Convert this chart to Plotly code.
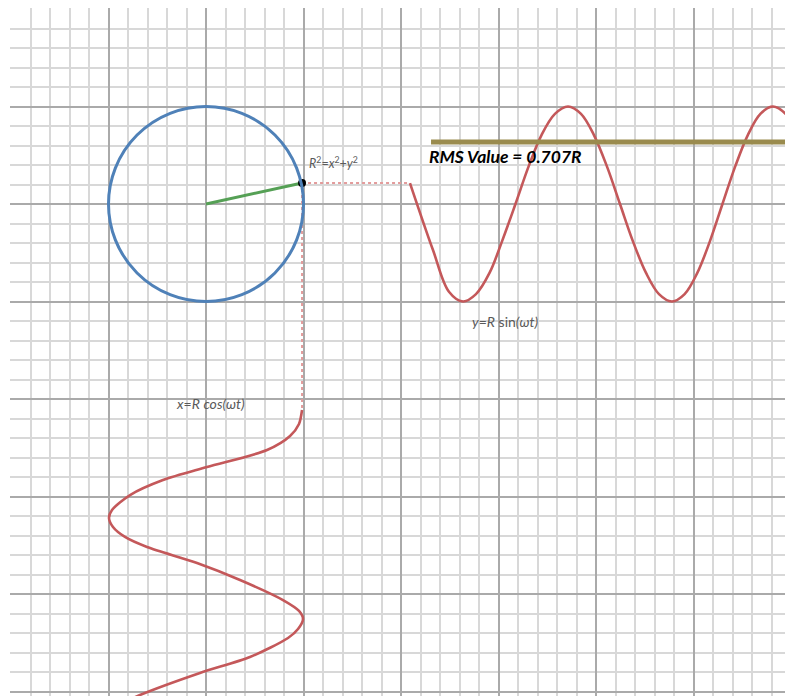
import plotly.graph_objects as go

# ---- data (grid units, R = 1) ----
circle_center = (0.0, 0.0)
circle_radius = 1.0
phasor_x = [0.0, 0.985]
phasor_y = [0.0, 0.215]

sine_x = [2.092, 2.328, 2.492, 2.636, 2.769, 2.908, 3.036, 3.174, 3.308, 3.441, 3.579,
          3.713, 3.846, 3.979, 4.113, 4.246, 4.379, 4.513, 4.646, 4.779, 4.909, 5.039,
          5.168, 5.297, 5.427, 5.557, 5.686, 5.815, 5.944, 6.072]
sine_y = [0.215, -0.472, -0.90, -1.0, -0.924, -0.707, -0.383, 0.0, 0.383, 0.707, 0.924,
          1.0, 0.924, 0.707, 0.383, 0.0, -0.383, -0.707, -0.924, -1.0, -0.924, -0.707,
          -0.383, 0.0, 0.383, 0.707, 0.924, 1.0, 0.924, 0.707]

cos_x = [0.985, 0.954, 0.862, 0.626, 0.010, -0.441, -0.779, -0.964, -0.995, -0.954,
         -0.831, -0.605, -0.092, 0.349, 0.790, 0.954, 0.995, 0.944, 0.841, 0.451,
         -0.062, -0.677, -0.831]
cos_y = [-2.113, -2.256, -2.379, -2.523, -2.697, -2.831, -2.985, -3.138, -3.221, -3.313,
         -3.415, -3.518, -3.682, -3.856, -4.062, -4.174, -4.256, -4.359, -4.451, -4.646,
         -4.810, -5.036, -5.108]

proj_h_x = [0.985, 2.092]
proj_h_y = [0.215, 0.215]
proj_v_x = [0.985, 0.985]
proj_v_y = [0.215, -2.113]

rms_x = [2.308, 6.1]
rms_y = [0.636, 0.636]

RED = "#c4585a"
fig = go.Figure()

fig.add_trace(go.Scatter(x=proj_h_x, y=proj_h_y, mode="lines",
                         line=dict(color="#e39c9c", width=2, dash="dot"), hoverinfo="skip"))
fig.add_trace(go.Scatter(x=proj_v_x, y=proj_v_y, mode="lines",
                         line=dict(color="#e39c9c", width=2, dash="dot"), hoverinfo="skip"))
fig.add_trace(go.Scatter(x=sine_x, y=sine_y, mode="lines",
                         line=dict(color=RED, width=2.6, shape="spline", smoothing=1.0)))
fig.add_trace(go.Scatter(x=cos_x, y=cos_y, mode="lines",
                         line=dict(color=RED, width=2.6, shape="spline", smoothing=0.8)))
fig.add_trace(go.Scatter(x=phasor_x, y=phasor_y, mode="lines",
                         line=dict(color="#55a055", width=3)))
fig.add_trace(go.Scatter(x=rms_x, y=rms_y, mode="lines",
                         line=dict(color="#9a8b4e", width=5)))

fig.add_shape(type="circle", xref="x", yref="y",
              x0=circle_center[0] - circle_radius, x1=circle_center[0] + circle_radius,
              y0=circle_center[1] - circle_radius, y1=circle_center[1] + circle_radius,
              line=dict(color="#4f81b8", width=3), layer="above")

fig.add_trace(go.Scatter(x=[phasor_x[1]], y=[phasor_y[1]], mode="markers",
                         marker=dict(color="black", size=8)))

fig.add_annotation(x=3.067, y=0.492, xref="x", yref="y", showarrow=False,
                   text="<b><i>RMS Value = 0.707R</i></b>",
                   font=dict(family="Lato", size=17.5, color="black"))
fig.add_annotation(x=1.303, y=0.425, xref="x", yref="y", showarrow=False,
                   text="<i>R</i><sup>2</sup>=<i>x</i><sup>2</sup>+<i>y</i><sup>2</sup>",
                   font=dict(family="Lato", size=12.5, color="#5a5a5a"))
fig.add_annotation(x=3.067, y=-1.21, xref="x", yref="y", showarrow=False,
                   text="<i>y</i>=<i>R</i> sin<i>(ωt)</i>",
                   font=dict(family="Lato", size=14, color="#5a5a5a"))
fig.add_annotation(x=0.051, y=-2.051, xref="x", yref="y", showarrow=False,
                   text="<i>x</i>=<i>R</i> <i>cos(ωt)</i>",
                   font=dict(family="Lato", size=14, color="#5a5a5a"))

unit = 97.5
fig.update_xaxes(range=[-196 / unit, 579 / unit], dtick=1, tick0=0,
                 showgrid=True, gridcolor="#aaaaaa", gridwidth=1.5,
                 minor=dict(dtick=0.2, tick0=0, showgrid=True, gridcolor="#d8d8d8", gridwidth=1.5),
                 zeroline=False, showline=False, showticklabels=False, ticks="")
fig.update_yaxes(range=[-492 / unit, 196 / unit], dtick=1, tick0=0,
                 showgrid=True, gridcolor="#aaaaaa", gridwidth=1.5,
                 minor=dict(dtick=0.2, tick0=0, showgrid=True, gridcolor="#d8d8d8", gridwidth=1.5),
                 zeroline=False, showline=False, showticklabels=False, ticks="")

fig.update_layout(width=785, height=696, autosize=False,
                  margin=dict(l=10, r=0, t=8, b=0, pad=0),
                  paper_bgcolor="white", plot_bgcolor="white", showlegend=False)

# remove the default 8px page margin so the figure fills the window exactly
fig.write_html("out.html", config={"displayModeBar": False},
               post_script="document.body.style.margin='0';document.body.style.overflow='hidden';")
